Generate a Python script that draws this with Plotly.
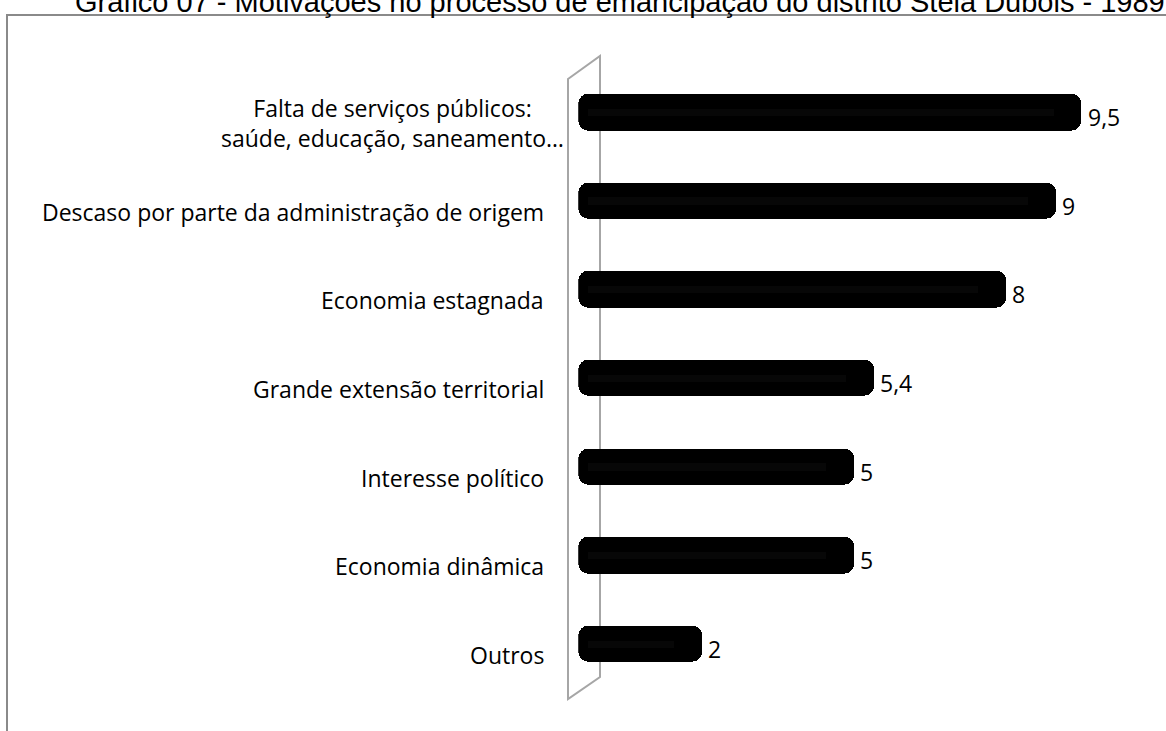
import plotly.graph_objects as go

# Chart content
title = "Gráfico 07 - Motivações no processo de emancipação do distrito Stela Dubois - 1989"
categories = [
    "Falta de serviços públicos:<br>saúde, educação, saneamento…",
    "Descaso por parte da administração de origem",
    "Economia estagnada",
    "Grande extensão territorial",
    "Interesse político",
    "Economia dinâmica",
    "Outros",
]
values = [9.5, 9, 8, 5.4, 5, 5, 2]
value_labels = ["9,5", "9", "8", "5,4", "5", "5", "2"]

# Canvas and layout geometry (pixels)
W, H = 1166, 731
ZERO_PX = 601.0        # x pixel of value 0
PX_PER_UNIT = 50.6     # pixels per value unit
CAP_DEPTH = 0.45       # depth of the rounded back cap of each cylinder
X_MIN, X_MAX = -CAP_DEPTH, 11.0
PLOT_TOP, PLOT_BOTTOM = 67.7, 688.3

def px_x(p):
    return p / W

def px_y(p):
    return 1 - p / H

x_dom = [px_x(ZERO_PX + X_MIN * PX_PER_UNIT), px_x(ZERO_PX + X_MAX * PX_PER_UNIT)]
y_dom = [px_y(PLOT_BOTTOM), px_y(PLOT_TOP)]

label_font = dict(family="Open Sans, Carlito, Calibri, sans-serif", size=23, color="#000000")

fig = go.Figure()

# Back caps of the cylinders (rounded left ends)
fig.add_trace(go.Bar(
    y=categories, x=[-CAP_DEPTH] * len(categories), orientation="h",
    marker=dict(color="#000000", line=dict(width=0), cornerradius=10),
    width=0.41, hoverinfo="skip", showlegend=False,
))
# Main cylinder bodies
fig.add_trace(go.Bar(
    y=categories, x=values, orientation="h",
    marker=dict(color="#000000", line=dict(width=0), cornerradius=10),
    width=0.41, showlegend=False,
))
# Very faint highlight along the cylinder axis
fig.add_trace(go.Bar(
    y=categories, x=[v - 0.3 for v in values], base=[-0.25] * len(values), orientation="h",
    marker=dict(color="#070707", line=dict(width=0)),
    width=0.08, hoverinfo="skip", showlegend=False,
))

annotations = []
# Category labels, anchored to the front edge of the wall
for cat in categories:
    right_px = 566 if "<br>" in cat else 546
    annotations.append(dict(
        x=px_x(right_px), xref="paper", xanchor="right",
        y=cat, yref="y", yanchor="middle", yshift=-11,
        text=cat, showarrow=False, align="center", font=label_font,
    ))
# Value labels at the end of each cylinder
for cat, v, lab in zip(categories, values, value_labels):
    annotations.append(dict(
        x=v, xref="x", xanchor="left", xshift=4,
        y=cat, yref="y", yanchor="middle", yshift=-5,
        text=lab, showarrow=False, font=label_font,
    ))
# Title, partly above the visible page
annotations.append(dict(
    x=px_x(620), xref="paper", xanchor="center",
    y=px_y(20), yref="paper", yanchor="bottom",
    text=title, showarrow=False,
    font=dict(family="Liberation Sans, Arial, sans-serif", size=29, color="#000000"),
))

shapes = [
    # Outer chart border
    dict(type="rect", xref="paper", yref="paper",
         x0=px_x(7), x1=px_x(W + 20), y0=px_y(H + 20), y1=px_y(15),
         line=dict(color="#8a8a8a", width=2), fillcolor="rgba(0,0,0,0)", layer="below"),
    # 3D axis wall
    dict(type="path", xref="paper", yref="paper",
         path=(f"M {px_x(568)} {px_y(79)} L {px_x(600)} {px_y(56)} "
               f"L {px_x(600)} {px_y(677)} L {px_x(568)} {px_y(699)} Z"),
         line=dict(color="#a6a6a6", width=2), fillcolor="rgba(0,0,0,0)", layer="below"),
]

fig.update_layout(
    width=W, height=H,
    margin=dict(l=0, r=0, t=0, b=0),
    paper_bgcolor="#ffffff", plot_bgcolor="rgba(0,0,0,0)",
    barmode="relative", bargap=0,
    xaxis=dict(domain=x_dom, range=[X_MIN, X_MAX], visible=False, fixedrange=True),
    yaxis=dict(domain=y_dom, range=[len(categories) - 0.5, -0.5],
               categoryorder="array", categoryarray=categories,
               showticklabels=False, showgrid=False, zeroline=False, showline=False,
               fixedrange=True),
    annotations=annotations,
    shapes=shapes,
)

fig.write_html("out.html")
